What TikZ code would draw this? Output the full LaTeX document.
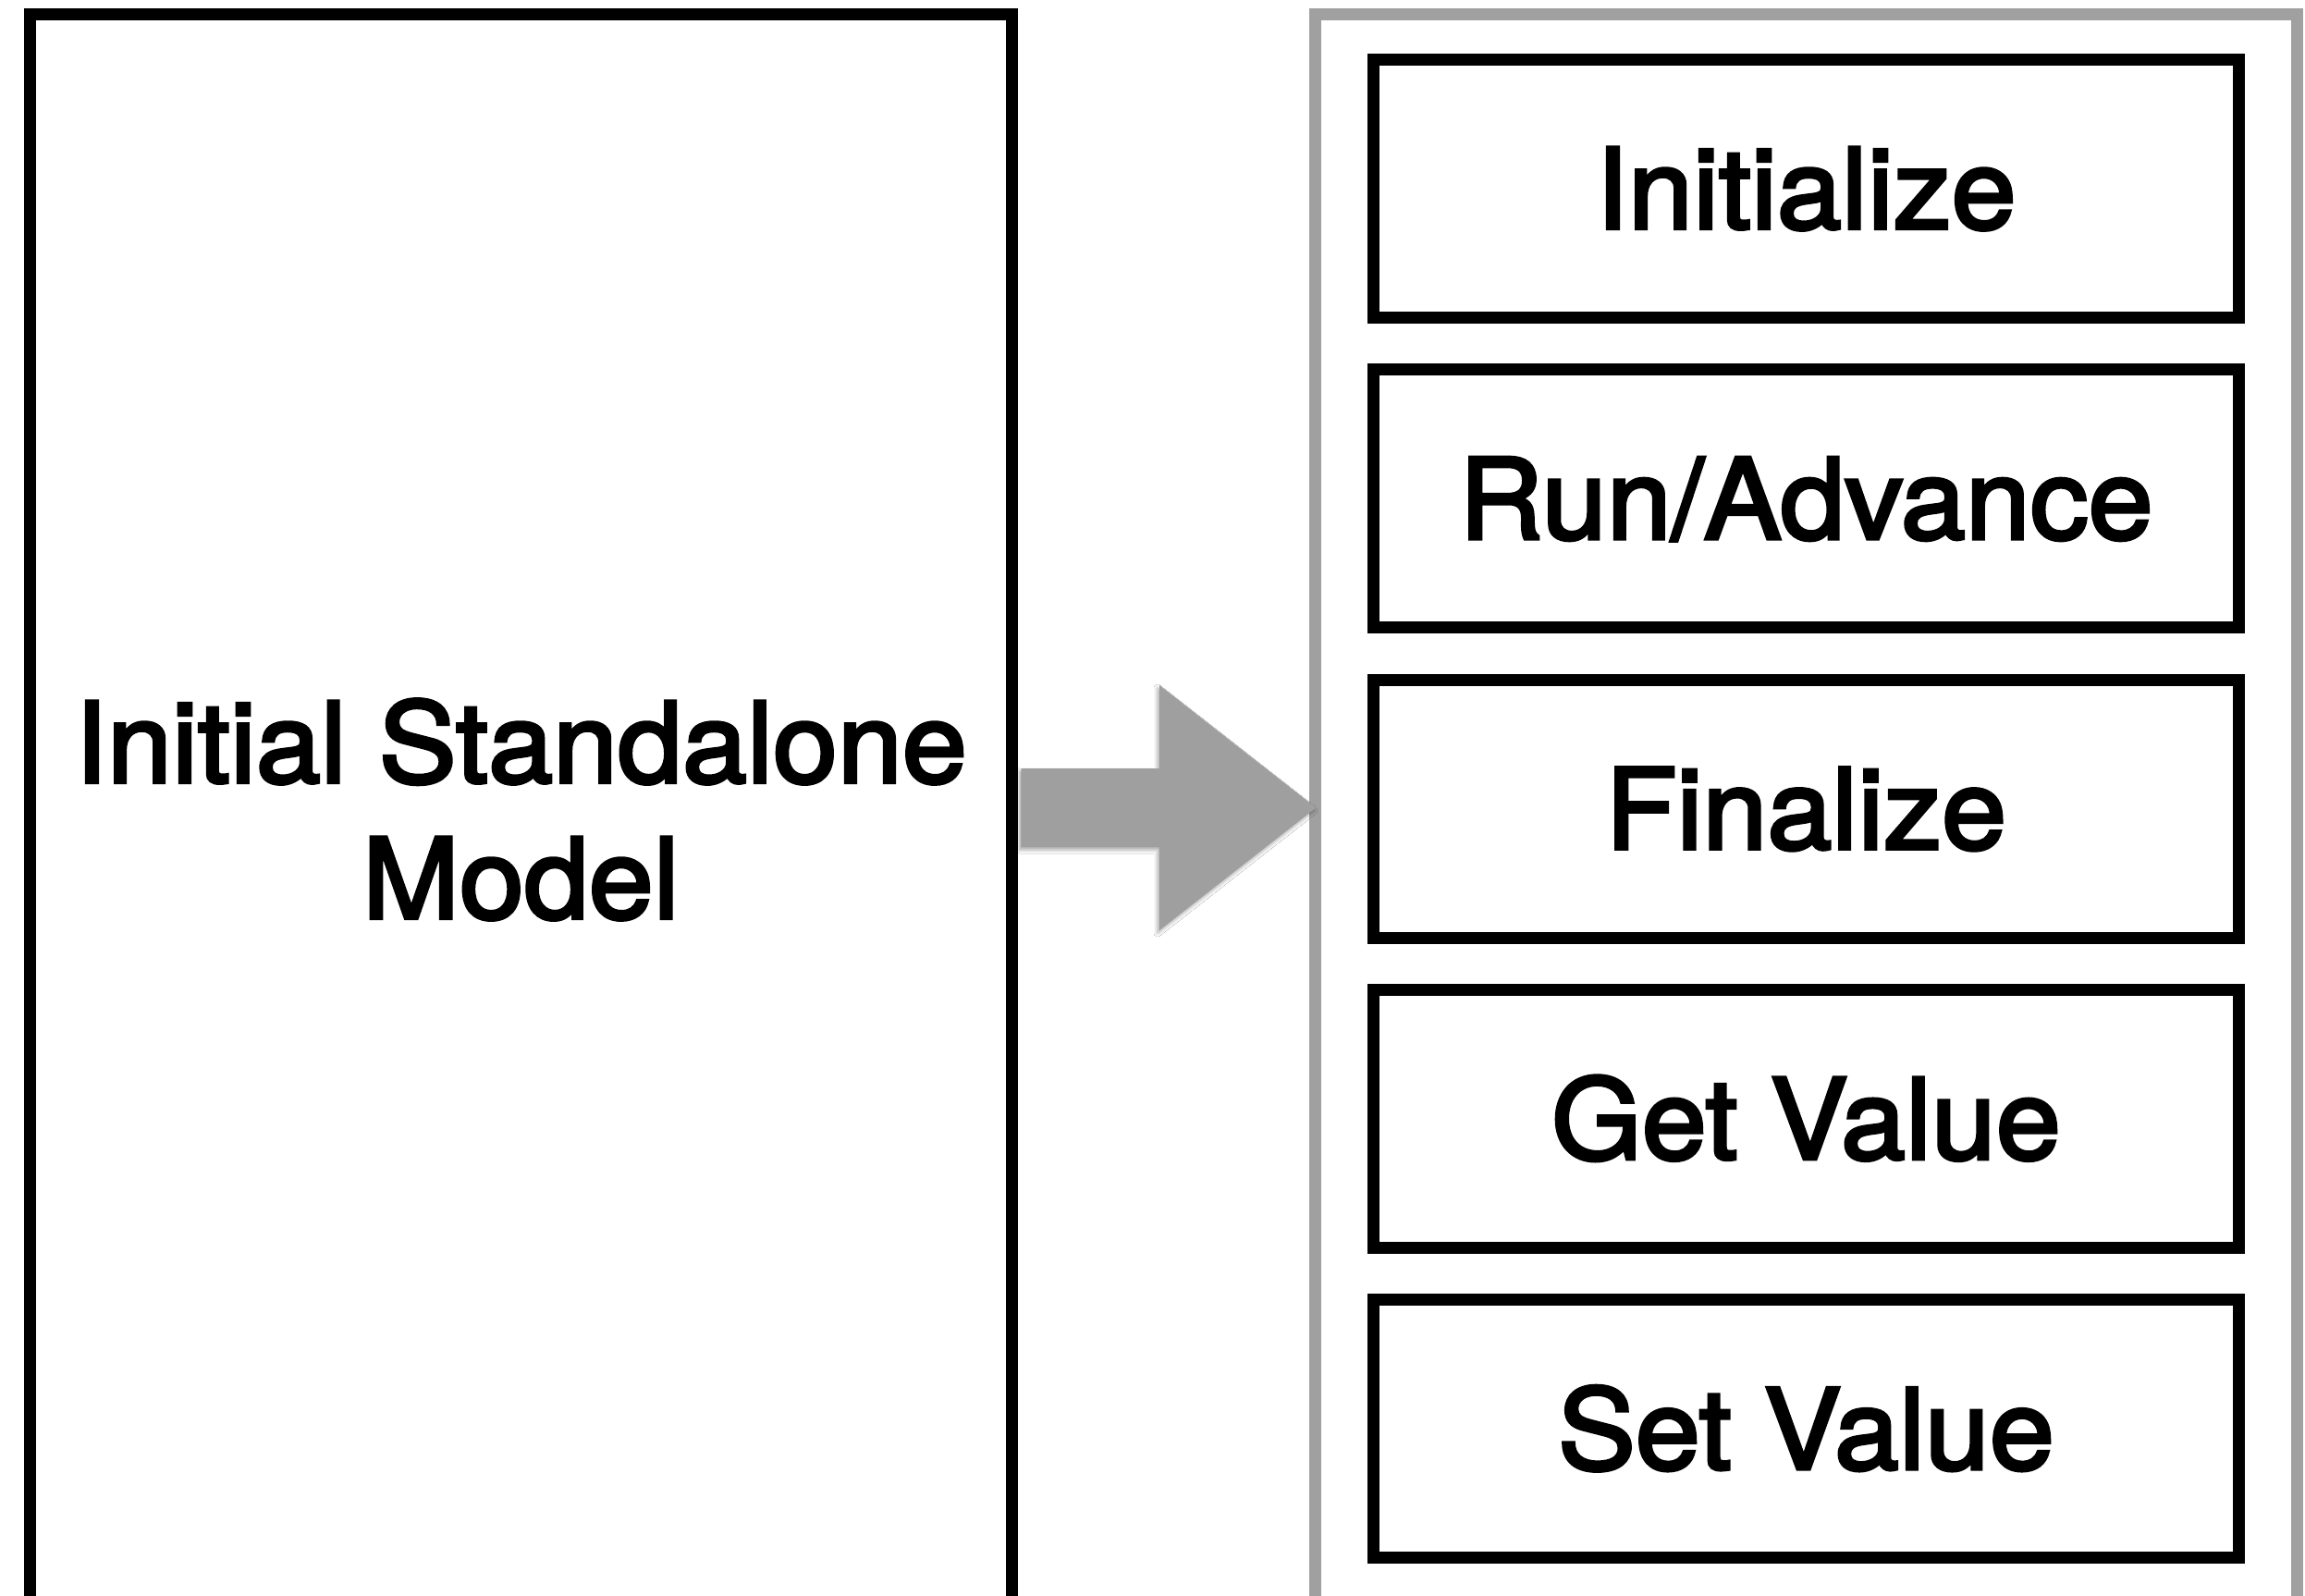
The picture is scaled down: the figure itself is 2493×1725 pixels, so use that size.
\documentclass[tikz,border=0pt]{standalone}
\usepackage{fontspec}
\setmainfont{TeX Gyre Heros}
% medium-weight face for the labels: the regular face, slightly emboldened and widened
\newfontfamily\medfont{TeX Gyre Heros}[FakeBold=3, FakeStretch=1.04]
\usetikzlibrary{shadows.blur}
\definecolor{framegray}{HTML}{A0A0A0}
\definecolor{arrowgray}{HTML}{9F9F9F}
\begin{document}
\begin{tikzpicture}[x=1pt,y=-1pt,
  panel/.style={draw, line width=13pt, minimum width=1061.8pt,
    minimum height=1720pt, inner sep=0pt, align=center},
  callbox/.style={draw, line width=13pt, minimum width=935.3pt,
    minimum height=279pt, inner sep=0pt, text height=87pt, text depth=0pt},
  bigtext/.style={font=\medfont\fontsize{121}{147}\selectfont}]
\clip (0,0) rectangle (2493,1725);
\fill[white] (0,0) rectangle (2493,1725);

% the original model
\node[panel, bigtext] (model) at (563.4,875.5) {Initial Standalone\\Model};

% the interface frame and its functions
\node[panel, draw=framegray] (api) at (1953.2,875.5) {};
\node[callbox, bigtext] (init)  at (1953.35,203.8)  {Initialize};
\node[callbox, bigtext] (run)   at (1953.35,539.2)  {Run/Advance};
\node[callbox, bigtext] (final) at (1953.35,874.6)  {Finalize};
\node[callbox, bigtext] (get)   at (1953.35,1210.0) {Get Value};
\node[callbox, bigtext] (set)   at (1953.35,1545.4) {Set Value};

% block arrow from the model to the interface
\coordinate (tail) at ([xshift=3.5pt]model.east |- 0,873.5);
\coordinate (tip)  at ([xshift=7.5pt]api.west |- 0,873.5);
\fill[arrowgray, blur shadow={shadow xshift=-2pt, shadow yshift=-3pt,
    shadow blur radius=4pt, shadow opacity=35}]
  ($(tail)+(0,-42.5)$) -- ($(tip)+(-169.3,-42.5)$) -- ($(tip)+(-169.3,-132.5)$)
  -- (tip) -- ($(tip)+(-169.3,132.5)$) -- ($(tip)+(-169.3,42.5)$)
  -- ($(tail)+(0,42.5)$) -- cycle;
\end{tikzpicture}
\end{document}
